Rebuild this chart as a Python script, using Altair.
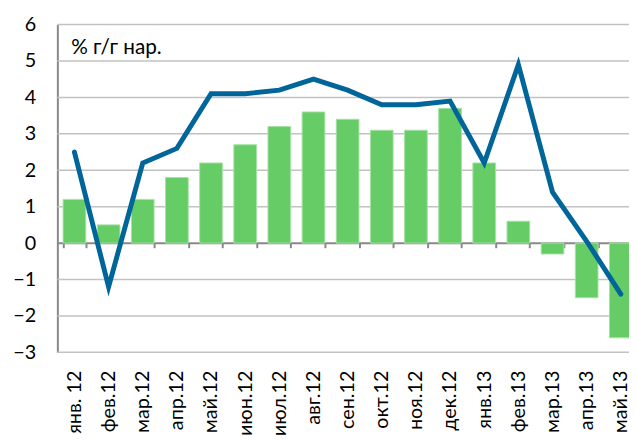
import altair as alt
import pandas as pd

categories = ["янв. 12", "фев.12", "мар.12", "апр.12", "май.12", "июн.12", "июл.12",
              "авг.12", "сен.12", "окт.12", "ноя.12", "дек.12", "янв.13", "фев.13",
              "мар.13", "апр.13", "май.13"]
bar_values = [1.2, 0.5, 1.2, 1.8, 2.2, 2.7, 3.2, 3.6, 3.4, 3.1, 3.1, 3.7, 2.2, 0.6, -0.3, -1.5, -2.6]
line_values = [2.5, -1.2, 2.2, 2.6, 4.1, 4.1, 4.2, 4.5, 4.2, 3.8, 3.8, 3.9, 2.2, 4.9, 1.4, 0.05, -1.4]
y_ticks = [-3, -2, -1, 0, 1, 2, 3, 4, 5, 6]
grid_values = [-3, -2, -1, 1, 2, 3, 4, 5, 6]
unit_label = "% г/г нар."

df = pd.DataFrame({"cat": categories, "bar": bar_values, "line": line_values})
grid_df = pd.DataFrame({"g": grid_values})

FONT = "Lato"
GRAY = "#888888"

xscale = alt.Scale(domain=categories, range=[0, 588], paddingInner=0.335, paddingOuter=0.1675)
yscale = alt.Scale(domain=[-3, 6], nice=False, zero=False)

xaxis = alt.Axis(title=None, labelAngle=-90, labelAlign="right", labelBaseline="middle",
                 domainColor=GRAY, domainWidth=2, tickColor=GRAY, tickWidth=2, tickSize=5,
                 tickBand="extent", offset=-111, grid=False, labelPadding=124,
                 labelFontSize=20, labelFont=FONT, labelColor="#000000", labelOverlap=False)
yaxis = alt.Axis(title=None, values=y_ticks, grid=False, domainColor=GRAY, domainWidth=2,
                 ticks=False, labelPadding=22, labelFontSize=20, labelFont=FONT,
                 labelColor="#000000")

grid = alt.Chart(grid_df).mark_rule(color="#c2c2c2", strokeWidth=1.5).encode(
    y=alt.Y("g:Q", scale=yscale, axis=yaxis),
)

bars = alt.Chart(df).mark_bar(color="#66CC66", stroke="#A8E2A8", strokeWidth=1).encode(
    x=alt.X("cat:N", sort=categories, scale=xscale, axis=xaxis),
    y=alt.Y("bar:Q", scale=yscale, axis=yaxis),
)

line = alt.Chart(df).mark_line(color="#006699", strokeWidth=5, strokeCap="round").encode(
    x=alt.X("cat:N", sort=categories, scale=xscale, axis=xaxis),
    y=alt.Y("line:Q", scale=yscale, axis=yaxis),
)

label = alt.Chart(pd.DataFrame({"t": [unit_label]})).mark_text(
    align="left", baseline="middle", fontSize=21, font=FONT, color="#000000"
).encode(x=alt.value(14), y=alt.value(24), text="t:N")

chart = alt.layer(grid, bars, line, label).properties(
    width=579, height=332,
    autosize=alt.AutoSizeParams(type="none"),
    padding={"left": 50, "top": 14, "right": 0, "bottom": 87},
).configure_view(stroke=None)

chart.save("out.html", embed_options={"renderer": "svg", "actions": False})
